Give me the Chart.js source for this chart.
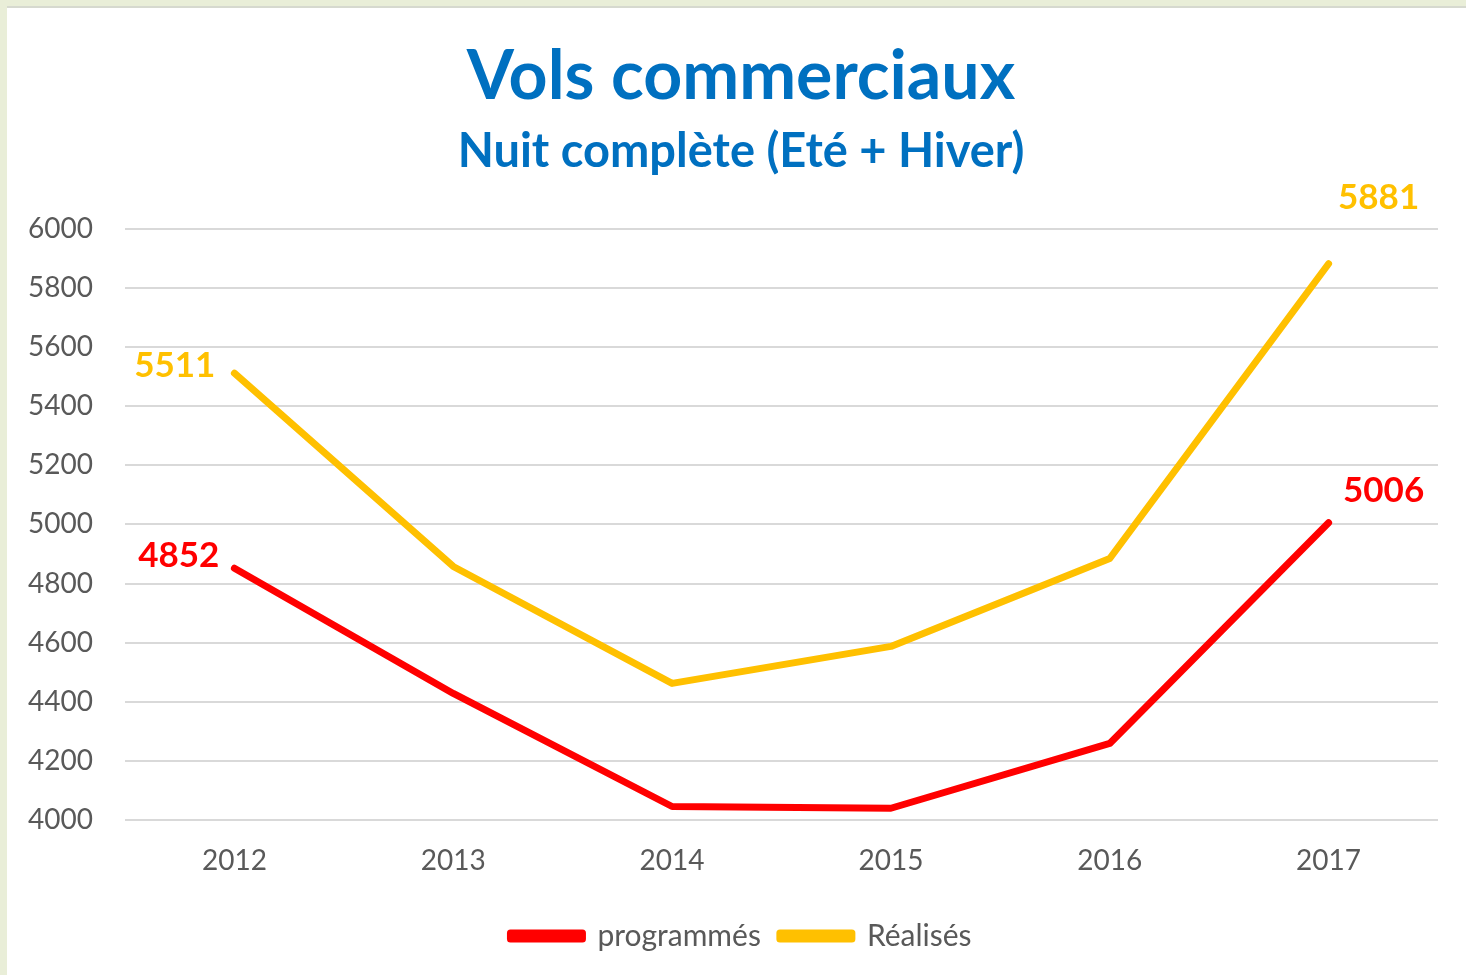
<!DOCTYPE html>
<html>
<head>
<meta charset="utf-8">
<script src="https://cdn.jsdelivr.net/npm/chart.js@4"></script>
<style>
  html, body { margin: 0; padding: 0; }
  body { width: 1466px; height: 975px; background: #e9eed8; position: relative; overflow: hidden; }
  #paper { position: absolute; left: 7px; top: 6px; right: 0; bottom: 0; background: #ffffff; border-top: 2px solid #d6d9cf; }
  #wrap { position: absolute; left: 0; top: 0; width: 1466px; height: 975px; }
</style>
</head>
<body>
<div id="paper"></div>
<div id="wrap"><canvas id="myChart" width="1466" height="975"></canvas></div>
<script>
    var years = ['2012', '2013', '2014', '2015', '2016', '2017'];
    var programmes = [4852, 4429, 4047, 4041, 4260, 5006];
    var realises = [5511, 4858, 4463, 4588, 4885, 5881];
    var yTicks = [4000, 4200, 4400, 4600, 4800, 5000, 5200, 5400, 5600, 5800, 6000];

    // labels only on first and last point, placed like in the excel chart
    var labelOffsets = {
      0: { first: [-15, -13, 'right'], last: [55, -32, 'center'] },
      1: { first: [-19, -8, 'right'], last: [50, -66, 'center'] }
    };

    var pointLabels = {
      id: 'pointLabels',
      afterDatasetsDraw: function (chart) {
        var c = chart.ctx;
        c.save();
        c.font = 'bold 35px Lato';
        c.textBaseline = 'middle';
        chart.data.datasets.forEach(function (ds, i) {
          var meta = chart.getDatasetMeta(i);
          var n = ds.data.length - 1;
          [[0, 'first'], [n, 'last']].forEach(function (p) {
            var pt = meta.data[p[0]];
            var o = labelOffsets[i][p[1]];
            c.fillStyle = ds.borderColor;
            c.textAlign = o[2];
            c.fillText(String(ds.data[p[0]]), pt.x + o[0], pt.y + o[1]);
          });
        });
        c.restore();
      }
    };

    var ctx = document.getElementById('myChart');
    var myChart = new Chart(ctx, {
      type: 'line',
      data: {
        labels: years,
        datasets: [{
          label: 'programmés',
          data: programmes,
          borderColor: '#ff0000',
          backgroundColor: '#ff0000',
          borderWidth: 7,
          borderJoinStyle: 'round',
          borderCapStyle: 'round',
          pointRadius: 0,
          tension: 0
        }, {
          label: 'Réalisés',
          data: realises,
          borderColor: '#ffc000',
          backgroundColor: '#ffc000',
          borderWidth: 7,
          borderJoinStyle: 'round',
          borderCapStyle: 'round',
          pointRadius: 0,
          tension: 0
        }]
      },
      options: {
        responsive: false,
        animation: false,
        layout: { padding: { left: 28, right: 12, top: 40, bottom: 14 } },
        scales: {
          x: {
            offset: true,
            grid: { display: false, drawTicks: false },
            border: { display: false },
            ticks: { color: '#595959', font: { family: 'Lato', size: 28 }, padding: 24 }
          },
          y: {
            min: 4000,
            max: 6000,
            afterBuildTicks: function (axis) {
              axis.ticks = yTicks.map(function (v) { return { value: v }; });
            },
            afterFit: function (axis) { axis.width = 97; },
            grid: { color: '#d9d9d9', lineWidth: 2, drawTicks: false },
            border: { display: false },
            ticks: {
              color: '#595959',
              font: { family: 'Lato', size: 28 },
              padding: 32,
              callback: function (v) { return String(v); }
            }
          },
          // empty spacer on the right so the plot ends where the original does
          yRight: {
            position: 'right',
            min: 4000,
            max: 6000,
            grid: { display: false, drawTicks: false },
            border: { display: false },
            ticks: { display: false },
            afterFit: function (axis) { axis.width = 16; }
          }
        },
        plugins: {
          title: {
            display: true,
            text: 'Vols commerciaux',
            color: '#0070c0',
            font: { family: 'Lato', size: 68, weight: 'bold', lineHeight: 1.1 },
            padding: { top: 0, bottom: 11 }
          },
          subtitle: {
            display: true,
            text: 'Nuit complète (Eté + Hiver)',
            color: '#0070c0',
            font: { family: 'Lato', size: 47, weight: 'bold', lineHeight: 1.1 },
            padding: { top: 0, bottom: 51 }
          },
          legend: {
            position: 'bottom',
            labels: {
              color: '#595959',
              font: { family: 'Lato', size: 30 },
              boxWidth: 72,
              boxHeight: 6,
              padding: 19
            }
          },
          tooltip: { enabled: false }
        }
      },
      plugins: [pointLabels]
    });
</script>
</body>
</html>
